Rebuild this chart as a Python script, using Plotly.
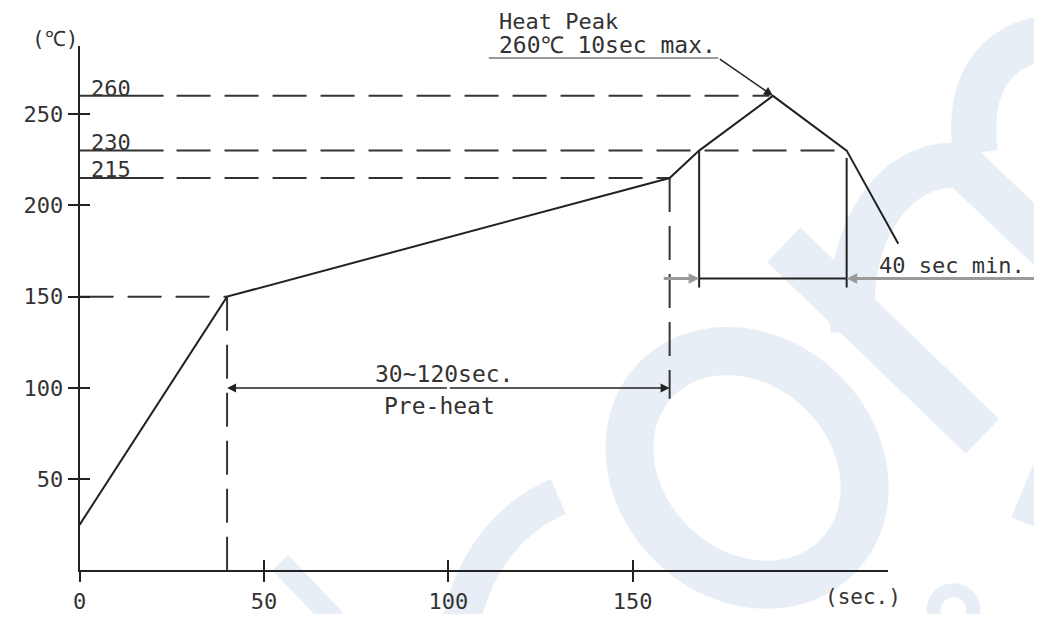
import numpy as np
import plotly.graph_objects as go

# ---------------- data ----------------
time_s = [0, 40, 160, 168, 188, 208, 222]
temp_c = [25, 150, 215, 230, 260, 230, 179]

level_temps = [260, 230, 215]
level_labels = ["260", "230", "215"]
level_label_c = [264, 234.3, 219.5]
level_end_s = [187, 208, 160]

preheat_temp = 150
preheat_start_s = 40
preheat_end_s = 160
preheat_arrow_c = 100
preheat_guide_bottom_c = 94

reflow_start_s = 168
reflow_end_s = 208
reflow_guide_top_c = [230, 226]
reflow_guide_bottom_c = 155
reflow_arrow_c = 160
reflow_outer_left_s = 158
reflow_outer_right_s = 262

leader_start_s = 111
leader_knee_s = 173.2
leader_c = 280.7
peak_s = 188
peak_c = 260

x_ticks = [0, 50, 100, 150]
y_ticks = [50, 100, 150, 200, 250]

# ---------------- geometry / style ----------------
OFF = 8                                 # page body margin
W, H = 1042 - 2 * OFF, 622 - 2 * OFF    # keep page free of scrollbars
X0, Y0 = 73 - OFF, 578 - OFF            # origin in figure pixels
SX, SY = 3.7133, 1.85                   # px per second, px per degree
X_AXIS_END, Y_AXIS_TOP = 887 - OFF, 47 - OFF

INK = "#222222"
TXT = "#333333"
GRAY = "#9a9a9a"
WM = "#e8eef6"
FONT = "DejaVu Sans Mono"

dash_std = "34px,14px"
dash_label = "84px,13px," + ",".join(["34px,14px"] * 20)

fig = go.Figure()

def line(x, y, color=INK, width=2, dash="solid"):
    fig.add_trace(go.Scatter(x=x, y=y, mode="lines", showlegend=False,
                             hoverinfo="skip",
                             line=dict(color=color, width=width, dash=dash)))

# reference (dashed) levels
for t, e in zip(level_temps, level_end_s):
    line([0, e], [t, t], color="#333333", dash=dash_label)
line([0, preheat_start_s], [preheat_temp, preheat_temp], color="#333333", dash=dash_std)
line([preheat_start_s, preheat_start_s], [preheat_temp, 0], color="#333333", dash=dash_std)
line([preheat_end_s, preheat_end_s], [level_temps[2], preheat_guide_bottom_c], color="#333333", dash=dash_std)

# reflow window guides
line([reflow_start_s, reflow_start_s], [reflow_guide_top_c[0], reflow_guide_bottom_c])
line([reflow_end_s, reflow_end_s], [reflow_guide_top_c[1], reflow_guide_bottom_c])
line([reflow_start_s, reflow_end_s], [reflow_arrow_c, reflow_arrow_c])

# leader line for heat peak
line([leader_start_s, leader_knee_s], [leader_c, leader_c], color="#777777", width=1.5)

# profile curve
line(time_s, temp_c, color=INK, width=2)

# dummy traces for the visible axes
fig.add_trace(go.Scatter(x=[None], y=[None], xaxis="x2", yaxis="y2", showlegend=False, hoverinfo="skip"))
fig.add_trace(go.Scatter(x=[None], y=[None], xaxis="x3", yaxis="y3", showlegend=False, hoverinfo="skip"))

# ---------------- arrows ----------------
def arrow(x, y, ax, ay, color=INK, width=1.5, head=2, size=1.2):
    fig.add_annotation(x=x, y=y, ax=ax, ay=ay, xref="x", yref="y", axref="x", ayref="y",
                       text="", showarrow=True, arrowhead=head, arrowsize=size,
                       arrowwidth=width, arrowcolor=color, standoff=0, startstandoff=0)

mid = (preheat_start_s + preheat_end_s) / 2
arrow(preheat_start_s, preheat_arrow_c, mid, preheat_arrow_c)
arrow(preheat_end_s, preheat_arrow_c, mid, preheat_arrow_c)
arrow(reflow_start_s, reflow_arrow_c, reflow_outer_left_s, reflow_arrow_c, color=GRAY, width=3, size=0.7)
arrow(reflow_end_s, reflow_arrow_c, reflow_outer_right_s, reflow_arrow_c, color=GRAY, width=3, size=0.7)
arrow(peak_s, peak_c, leader_knee_s, leader_c, width=1.5)

# ---------------- texts ----------------
def text(s, x, y, xanchor="center", size=22, yanchor="middle", xref="x", yref="y"):
    fig.add_annotation(x=x, y=y, xref=xref, yref=yref, text=s, showarrow=False,
                       xanchor=xanchor, yanchor=yanchor, borderpad=0,
                       font=dict(family=FONT, size=size, color=TXT))

for lbl, yc in zip(level_labels, level_label_c):
    text(lbl, 2.7, yc, xanchor="left")
text("Heat Peak", 113.4, 1.0, xanchor="left", size=22, yanchor="top", yref="paper")
text("260℃ 10sec max.", 113.4, 288.1, xanchor="left", size=23)
text("40 sec min.", 216.5, 167.3, xanchor="left", size=22)
text("30~120sec.", 98.8, 107.6, size=23)
text("Pre-heat", 97.5, 90, size=23)
# axis unit labels sit outside the data ranges -> place them in paper space
text("(℃)", (48 - OFF) / W, 1 - (39 - OFF) / H, size=21, xref="paper", yref="paper")
text("(sec.)", (862 - OFF) / W, 1 - (605 - OFF) / H, size=21, xref="paper", yref="paper")

# ---------------- watermark (screen pixel coordinates) ----------------
def P(x, y):
    return f"{(x - OFF) / W:.5f},{1 - (y - OFF) / H:.5f}"

def ellipse_path(cx, cy, a, b, n=90):
    t = np.linspace(0, 2 * np.pi, n, endpoint=False)
    ux, uy = np.cos(np.pi / 4), np.sin(np.pi / 4)
    vx, vy = -np.sin(np.pi / 4), np.cos(np.pi / 4)
    xs = cx + a * np.cos(t) * ux + b * np.sin(t) * vx
    ys = cy + a * np.cos(t) * uy + b * np.sin(t) * vy
    pts = [P(x, y) for x, y in zip(xs, ys)]
    return "M " + " L ".join(pts) + " Z"

wm_shapes = [
    (ellipse_path(745, 474, 128, 108), 48),
    (f"M {P(782,248)} L {P(982,442)}", 48),
    (f"M {P(555,503)} C {P(515,520)} {P(470,560)} {P(455,640)}", 38),
    (f"M {P(275,570)} L {P(330,628)}", 22),
    (f"M {P(852,335)} C {P(842,235)} {P(895,160)} {P(962,168)} L {P(1060,262)}", 45),
    (f"M {P(975,155)} C {P(965,80)} {P(1000,38)} {P(1060,38)}", 45),
    (f"M {P(1050,470)} L {P(1025,530)}", 30),
]
for path, w in wm_shapes:
    fig.add_shape(type="path", path=path, xref="paper", yref="paper",
                  line=dict(color=WM, width=w), layer="below")
fig.add_shape(type="circle", xref="paper", yref="paper",
              x0=(933 - OFF) / W, x1=(973 - OFF) / W, y0=1 - (638 - OFF) / H, y1=1 - (598 - OFF) / H,
              line=dict(color=WM, width=14), layer="below")

# ---------------- layout ----------------
tickfont = dict(family=FONT, size=22, color=TXT)
fig.update_layout(
    width=W, height=H,
    margin=dict(l=0, r=0, t=0, b=0, pad=0),
    paper_bgcolor="white", plot_bgcolor="rgba(0,0,0,0)",
    showlegend=False,
    xaxis=dict(domain=[X0 / W, 1], range=[0, (W - X0) / SX], visible=False, fixedrange=True),
    yaxis=dict(domain=[(H - Y0) / H, 1], range=[0, Y0 / SY], visible=False, fixedrange=True),
    xaxis2=dict(domain=[X0 / W, X_AXIS_END / W], range=[0, (X_AXIS_END - X0) / SX], anchor="y2",
                showline=True, linecolor=INK, linewidth=2, showgrid=False, zeroline=False,
                ticks="outside", ticklen=10, tickwidth=2, tickcolor=INK,
                tickvals=x_ticks, ticktext=[str(v) for v in x_ticks], tickfont=tickfont),
    yaxis2=dict(domain=[(H - Y0) / H, (H - Y_AXIS_TOP) / H], range=[0, (Y0 - Y_AXIS_TOP) / SY], anchor="x2",
                showline=True, linecolor=INK, linewidth=2, showgrid=False, zeroline=False,
                ticks="outside", ticklen=10, tickwidth=2, tickcolor=INK,
                tickvals=y_ticks, ticktext=[str(v) for v in y_ticks], tickfont=tickfont),
    xaxis3=dict(domain=[X0 / W, X_AXIS_END / W], range=[0, (X_AXIS_END - X0) / SX], anchor="y3",
                showline=False, showgrid=False, zeroline=False, showticklabels=False,
                ticks="inside", ticklen=10, tickwidth=2, tickcolor=INK, tickvals=x_ticks[1:]),
    yaxis3=dict(domain=[(H - Y0) / H, (H - Y_AXIS_TOP) / H], range=[0, (Y0 - Y_AXIS_TOP) / SY], anchor="x3",
                showline=False, showgrid=False, zeroline=False, showticklabels=False,
                ticks="inside", ticklen=10, tickwidth=2, tickcolor=INK, tickvals=y_ticks),
)

fig.write_html("out.html")
